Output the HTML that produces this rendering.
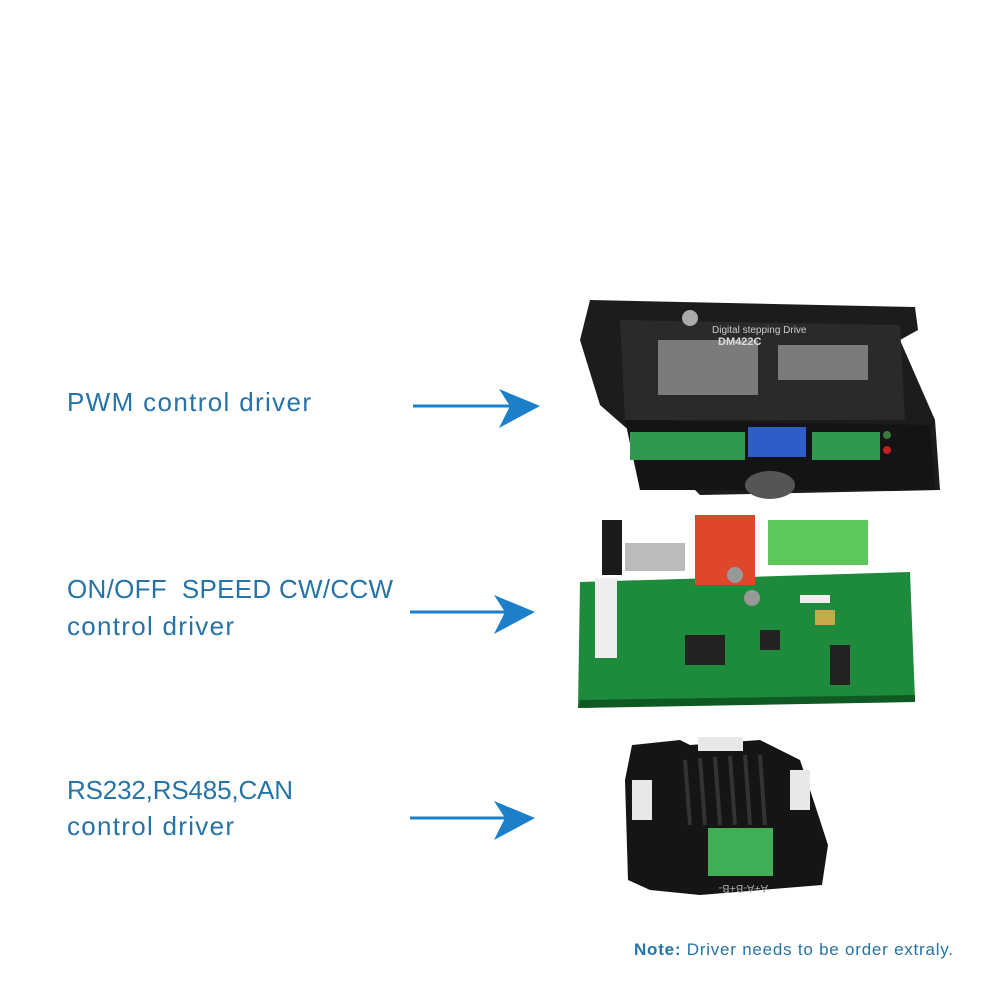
<!DOCTYPE html>
<html><head><meta charset="utf-8"><style>
html,body{margin:0;padding:0;background:#fff;}
svg{display:block}
.t{font-family:"Liberation Sans",sans-serif;font-size:26px;fill:#2673a8;}
</style></head><body>
<svg width="1000" height="1000" viewBox="0 0 1000 1000" xmlns="http://www.w3.org/2000/svg">
<rect width="1000" height="1000" fill="#fff"/>
<text class="t" x="67" y="411" textLength="244">PWM control driver</text>
<text class="t" x="67" y="598" textLength="326">ON/OFF&#160;&#160;SPEED CW/CCW</text>
<text class="t" x="67" y="635" textLength="167">control driver</text>
<text class="t" x="67" y="799" textLength="226">RS232,RS485,CAN</text>
<text class="t" x="67" y="835" textLength="167">control driver</text>
<g fill="#1b7fc9" stroke="#1b7fc9">
<line x1="413" y1="406" x2="510" y2="406" stroke-width="3"/>
<path d="M499 389 L540 406 L499 428 L510 406 Z" stroke="none"/>
<line x1="410" y1="612" x2="505" y2="612" stroke-width="3"/>
<path d="M494 595 L535 612 L494 634 L505 612 Z" stroke="none"/>
<line x1="410" y1="818" x2="505" y2="818" stroke-width="3"/>
<path d="M494 801 L535 818 L494 840 L505 818 Z" stroke="none"/>
</g>
<!-- driver 1 -->
<path d="M590 300 L915 307 L918 330 L900 340 L935 420 L940 490 L700 495 L680 475 L600 405 L580 340 Z" fill="#1c1c1e"/>
<path d="M625 420 L930 425 L935 490 L640 490 Z" fill="#141416"/>
<path d="M620 320 L900 325 L905 420 L625 420 Z" fill="#2a2a2d"/>
<rect x="658" y="340" width="100" height="55" fill="#ddd" opacity="0.45"/>
<rect x="778" y="345" width="90" height="35" fill="#ddd" opacity="0.45"/>
<text x="712" y="333" font-family="Liberation Sans,sans-serif" font-size="10" fill="#ccc">Digital stepping Drive</text>
<text x="718" y="345" font-family="Liberation Sans,sans-serif" font-size="11" font-weight="bold" fill="#ddd">DM422C</text>
<circle cx="690" cy="318" r="8" fill="#aaa"/>
<rect x="630" y="432" width="115" height="28" fill="#2f9a4e"/>
<rect x="748" y="427" width="58" height="30" fill="#2e5cc8"/>
<rect x="812" y="432" width="68" height="28" fill="#2f9a4e"/>
<circle cx="887" cy="435" r="4" fill="#3a7a3a"/>
<circle cx="887" cy="450" r="4" fill="#c02020"/>
<ellipse cx="770" cy="485" rx="25" ry="14" fill="#555"/>
<!-- board -->
<path d="M580 582 L910 572 L915 700 L578 708 Z" fill="#1e8a3c"/>
<path d="M580 700 L915 695 L915 702 L578 708 Z" fill="#0f5a22"/>
<rect x="602" y="520" width="20" height="55" fill="#1a1a1a"/>
<rect x="625" y="543" width="60" height="28" fill="#bbb"/>
<rect x="695" y="515" width="60" height="70" fill="#e0462a"/>
<rect x="768" y="520" width="100" height="45" fill="#5cc85a"/>
<rect x="595" y="578" width="22" height="80" fill="#eee"/>
<rect x="685" y="635" width="40" height="30" fill="#222"/>
<circle cx="735" cy="575" r="8" fill="#999"/>
<circle cx="752" cy="598" r="8" fill="#999"/>
<rect x="760" y="630" width="20" height="20" fill="#222"/>
<rect x="830" y="645" width="20" height="40" fill="#222"/>
<rect x="800" y="595" width="30" height="8" fill="#eee"/>
<rect x="815" y="610" width="20" height="15" fill="#c9a84a"/>
<!-- driver 3 -->
<path d="M632 745 L680 740 L690 745 L760 740 L800 760 L815 805 L828 845 L822 885 L700 895 L650 890 L628 880 L625 780 Z" fill="#151515"/>
<g stroke="#333" stroke-width="4">
<line x1="685" y1="760" x2="690" y2="825"/><line x1="700" y1="758" x2="705" y2="825"/>
<line x1="715" y1="757" x2="720" y2="825"/><line x1="730" y1="756" x2="735" y2="825"/>
<line x1="745" y1="755" x2="750" y2="825"/><line x1="760" y1="755" x2="765" y2="825"/>
</g>
<rect x="698" y="737" width="45" height="14" fill="#e8e8e8"/>
<rect x="632" y="780" width="20" height="40" fill="#e8e8e8"/>
<rect x="790" y="770" width="20" height="40" fill="#e8e8e8"/>
<rect x="708" y="828" width="65" height="48" fill="#3fae57"/>
<text x="712" y="893" font-family="Liberation Sans,sans-serif" font-size="11" fill="#aaa" transform="rotate(180 740 889)">A+A-B+B-</text>
<text x="634" y="955" font-family="Liberation Sans,sans-serif" font-size="17" fill="#2673a8" textLength="319"><tspan font-weight="bold">Note:</tspan> Driver needs to be order extraly.</text>
</svg>
</body></html>
